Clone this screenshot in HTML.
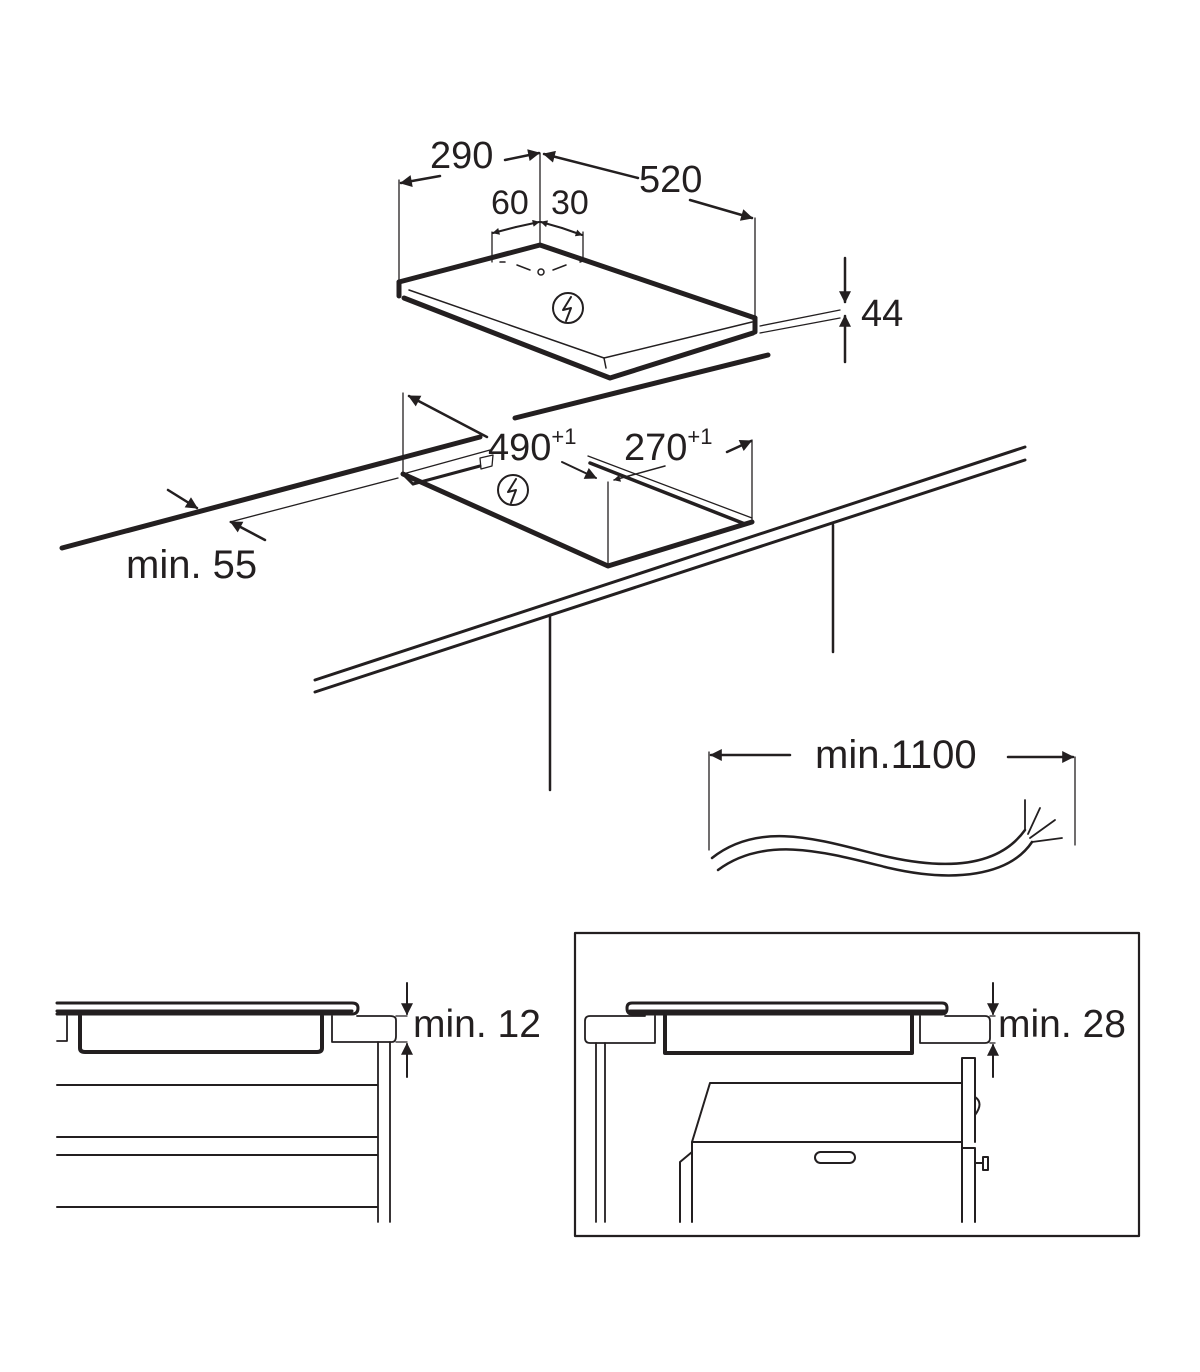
<!DOCTYPE html>
<html><head><meta charset="utf-8"><style>
html,body{margin:0;padding:0;background:#fff}
svg{display:block}
text{font-family:"Liberation Sans",sans-serif;fill:#231f20}
</style></head><body>
<svg width="1200" height="1372" viewBox="0 0 1200 1372" xmlns="http://www.w3.org/2000/svg">
<defs>
<marker id="a" viewBox="0 0 10 10" refX="9" refY="5" markerWidth="9" markerHeight="7" orient="auto" markerUnits="userSpaceOnUse"><path d="M0,0 L10,5 L0,10 z" fill="#231f20"/></marker>
<marker id="b" viewBox="0 0 10 10" refX="9" refY="5" markerWidth="16" markerHeight="12" orient="auto" markerUnits="userSpaceOnUse"><path d="M0,0 L10,5 L0,10 z" fill="#231f20"/></marker>
</defs>
<g stroke="#231f20" fill="none" stroke-linecap="round" stroke-linejoin="round">
<!-- Top hob -->
<path d="M399,282 L540,245 L755,318" stroke-width="5"/>
<path d="M399,282 L399,296 M755,318 L755,332" stroke-width="5"/>
<path d="M409,290 L604,358 L752,322" stroke-width="1.5"/>
<path d="M604,358 L606,368" stroke-width="1.5"/>
<path d="M404,298 L610,378 L753,333" stroke-width="5"/>
<path d="M515,418 L768,355" stroke-width="5"/>
<circle cx="541" cy="272" r="3" stroke-width="1.5"/>
<path d="M500,262 L505,262 M517,265 L530,270 M553,270 L566,265 M580,262 L585,260" stroke-width="1.5"/>
<circle cx="568" cy="308" r="15" stroke-width="2"/>
<path d="M571,297 L563,310 L571,308 L566,321" stroke-width="2"/>
<!-- dimension lines top -->
<path d="M399,282 L399,180 M755,318 L755,218 M540,245 L540,153 M492,262 L492,232 M583,258 L583,232" stroke-width="1.3"/>
<path d="M505,160 L539,153" stroke-width="2.5" marker-end="url(#b)"/>
<path d="M440,176 L401,183" stroke-width="2.5" marker-end="url(#b)"/>
<path d="M638,178 L544,154" stroke-width="2.5" marker-end="url(#b)"/>
<path d="M690,200 L752,218" stroke-width="2.5" marker-end="url(#b)"/>
<path d="M516,227 L493,233" stroke-width="2" marker-end="url(#a)"/>
<path d="M516,227 L539,222" stroke-width="2" marker-end="url(#a)"/>
<path d="M562,228 L541,222" stroke-width="2" marker-end="url(#a)"/>
<path d="M562,228 L582,235" stroke-width="2" marker-end="url(#a)"/>
<path d="M845,258 L845,302" stroke-width="2.5" marker-end="url(#b)"/>
<path d="M845,362 L845,316" stroke-width="2.5" marker-end="url(#b)"/>
<path d="M760,326 L840,310 M760,333 L840,318" stroke-width="1.3"/>
<!-- Cutout -->
<path d="M62,548 L480,437" stroke-width="5"/>
<path d="M403,393 L403,474 M752,440 L752,522 M608,482 L608,566" stroke-width="1.3"/>
<path d="M403,474 L608,566 L752,522" stroke-width="5"/>
<path d="M403,474 L490,450" stroke-width="1.3"/>
<path d="M413,484 L480,466" stroke-width="3"/>
<path d="M403,474 L413,484" stroke-width="3"/>
<path d="M480,458 L493,455 L492,466 L481,469 Z" stroke-width="1.3"/>
<path d="M588,456 L752,518" stroke-width="1.3"/>
<path d="M590,463 L745,524" stroke-width="3.5"/>
<circle cx="513" cy="490" r="15" stroke-width="2"/>
<path d="M516,479 L508,492 L516,490 L511,503" stroke-width="2"/>
<path d="M487,437 L409,396" stroke-width="2.5" marker-end="url(#b)"/>
<path d="M727,452 L751,441" stroke-width="2.5" marker-end="url(#b)"/>
<path d="M562,462 L596,478" stroke-width="2" marker-end="url(#b)"/>
<path d="M665,466 L614,480" stroke-width="1.5" marker-end="url(#a)"/>
<path d="M168,490 L197,508" stroke-width="2.5" marker-end="url(#b)"/>
<path d="M230,522 L398,478" stroke-width="1.3"/>
<path d="M265,540 L231,522" stroke-width="2.5" marker-end="url(#b)"/>
<!-- Countertop -->
<path d="M315,680 L1025,447 M315,692 L1025,460" stroke-width="3"/>
<path d="M550,615 L550,790 M833,525 L833,652" stroke-width="2.5"/>
<!-- Cable -->
<path d="M709,752 L709,850 M1075,757 L1075,845" stroke-width="1.3"/>
<path d="M790,755 L711,755" stroke-width="2.5" marker-end="url(#b)"/>
<path d="M1008,757 L1073,757" stroke-width="2.5" marker-end="url(#b)"/>
<path d="M712,858 C760,820 820,840 880,855 C950,872 1000,865 1025,830" stroke-width="2.5"/>
<path d="M718,870 C765,835 825,852 885,867 C955,884 1010,875 1032,842" stroke-width="2.5"/>
<path d="M1025,830 L1025,800 M1028,834 L1040,808 M1030,838 L1055,820 M1032,842 L1062,838" stroke-width="1.8"/>
<!-- Bottom left -->
<path d="M57,1003 L352,1003 Q358,1003 358,1008 Q358,1014 352,1014 L57,1014" stroke-width="3"/>
<path d="M57,1011 L352,1011" stroke-width="3"/>
<path d="M57,1041 L67,1041 L67,1016" stroke-width="1.8"/>
<path d="M80,1016 L80,1048 Q80,1052 85,1052 L317,1052 Q322,1052 322,1048 L322,1016" stroke-width="4"/>
<path d="M332,1016 L332,1042 L392,1042 Q396,1042 396,1036 L396,1020 Q396,1016 390,1016 L357,1016" stroke-width="1.8"/>
<path d="M378,1042 L378,1222 M390,1042 L390,1222" stroke-width="1.8"/>
<path d="M57,1085 L377,1085 M57,1137 L377,1137 M57,1155 L377,1155 M57,1207 L377,1207" stroke-width="2"/>
<path d="M407,983 L407,1014" stroke-width="2" marker-end="url(#b)"/>
<path d="M407,1077 L407,1044" stroke-width="2" marker-end="url(#b)"/>
<path d="M396,1016 L407,1016 M396,1042 L407,1042" stroke-width="1.3"/>
<!-- Bottom right -->
<rect x="575" y="933" width="564" height="303" stroke-width="2.2"/>
<path d="M632,1003 L942,1003 Q947,1003 947,1008 Q947,1014 942,1014 L632,1014 Q627,1014 627,1008 Q627,1003 632,1003 Z" stroke-width="3"/>
<path d="M630,1011 L945,1011" stroke-width="3"/>
<path d="M645,1016 L590,1016 Q585,1016 585,1021 L585,1038 Q585,1043 590,1043 L655,1043 L655,1016" stroke-width="1.8"/>
<path d="M665,1016 L665,1053 L912,1053 L912,1016" stroke-width="4"/>
<path d="M920,1016 L920,1043 L985,1043 Q990,1043 990,1038 L990,1021 Q990,1016 985,1016 L945,1016" stroke-width="1.8"/>
<path d="M596,1043 L596,1222 M605,1043 L605,1222" stroke-width="1.8"/>
<path d="M962,1083 L710,1083 L692,1142 L962,1142" stroke-width="2"/>
<path d="M692,1142 L692,1222 M692,1152 L680,1162 L680,1222" stroke-width="2"/>
<rect x="815" y="1152" width="40" height="11" rx="5.5" stroke-width="2"/>
<path d="M962,1222 L962,1058 L975,1058 L975,1142 M962,1148 L975,1148 L975,1222" stroke-width="2"/>
<path d="M975,1097 Q984,1103 975,1115" stroke-width="2"/>
<path d="M975,1163 L983,1163 M983,1157 L983,1170 L988,1170 L988,1157 Z" stroke-width="2"/>
<path d="M993,983 L993,1014" stroke-width="2" marker-end="url(#b)"/>
<path d="M993,1077 L993,1045" stroke-width="2" marker-end="url(#b)"/>
<path d="M990,1016 L995,1016 M990,1043 L995,1043" stroke-width="1.3"/>
</g>
<text x="430" y="168" font-size="38">290</text>
<text x="639" y="192" font-size="38">520</text>
<text x="491" y="214" font-size="34">60</text>
<text x="551" y="214" font-size="34">30</text>
<text x="861" y="326" font-size="38">44</text>
<text x="488" y="460" font-size="38">490<tspan font-size="22" dy="-16">+1</tspan></text>
<text x="624" y="460" font-size="38">270<tspan font-size="22" dy="-16">+1</tspan></text>
<text x="126" y="578" font-size="40">min. 55</text>
<text x="815" y="768" font-size="40">min.1100</text>
<text x="413" y="1037" font-size="39">min. 12</text>
<text x="998" y="1037" font-size="39">min. 28</text>
</svg>
</body></html>
